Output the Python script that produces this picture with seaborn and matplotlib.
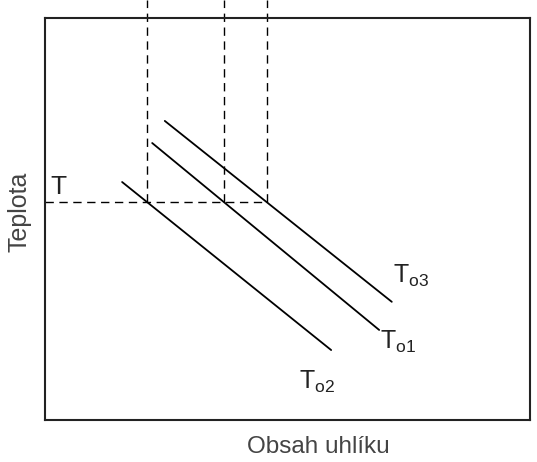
import numpy as np
import pandas as pd
import matplotlib
matplotlib.use("Agg")
import matplotlib.pyplot as plt
import seaborn as sns

# liquidus-like lines for three starting temperatures (arbitrary units 0-10)
curves = ["To2", "To1", "To3"]
x_start = [1.59, 2.21, 2.47]
x_end = [5.90, 6.89, 7.15]
y_start = [5.92, 6.89, 7.44]
y_end = [1.74, 2.24, 2.94]

# label text and positions
curve_labels = [r"T$_{\mathregular{o2}}$", r"T$_{\mathregular{o1}}$", r"T$_{\mathregular{o3}}$"]
label_x = [5.6, 7.28, 7.55]
label_y = [0.95, 1.95, 3.58]

t_level = 5.42

rows = []
for name, xs, xe, ys, ye in zip(curves, x_start, x_end, y_start, y_end):
    rows.append({"curve": name, "x": xs, "y": ys})
    rows.append({"curve": name, "x": xe, "y": ye})
df = pd.DataFrame(rows)

sns.set_style("white")
plt.rcParams["font.family"] = ["Liberation Sans", "DejaVu Sans"]

fig = plt.figure(figsize=(5.37, 4.62), dpi=100)
ax = fig.add_axes([45 / 537, 1 - 420 / 462, 485 / 537, 402 / 462])

sns.lineplot(data=df, x="x", y="y", hue="curve", palette=["black"] * 3,
             linewidth=1.3, legend=False, ax=ax, sort=False)

# dashed construction lines: horizontal at T, verticals at the crossings
cross = []
for xs, xe, ys, ye in zip(x_start, x_end, y_start, y_end):
    cross.append(np.interp(t_level, [ye, ys], [xe, xs]))
dash = (0, (6, 4))
ax.plot([0, max(cross)], [t_level, t_level], color="black", lw=1, linestyle=dash)
for cx in cross:
    ax.plot([cx, cx], [t_level, 10.45], color="black", lw=1, linestyle=dash, clip_on=False)

for txt, lx, ly in zip(curve_labels, label_x, label_y):
    ax.text(lx, ly, txt, fontsize=18, ha="center", va="center", color="#222222")
ax.text(0.27, 5.8, "T", fontsize=19, ha="center", va="center", color="#222222")

ax.set_xlim(0, 10)
ax.set_ylim(0, 10)
ax.set_xticks([])
ax.set_yticks([])
ax.set_xlabel("Obsah uhlíku", fontsize=17.5, color="#444444")
ax.set_ylabel("Teplota", fontsize=18, color="#444444")
ax.xaxis.set_label_coords(0.563, -0.04)
ax.yaxis.set_label_coords(-0.027, 0.517)
for s in ax.spines.values():
    s.set_visible(True)
    s.set_color("#222222")
    s.set_linewidth(1.5)

fig.savefig("out.png", dpi=100, facecolor="white")
